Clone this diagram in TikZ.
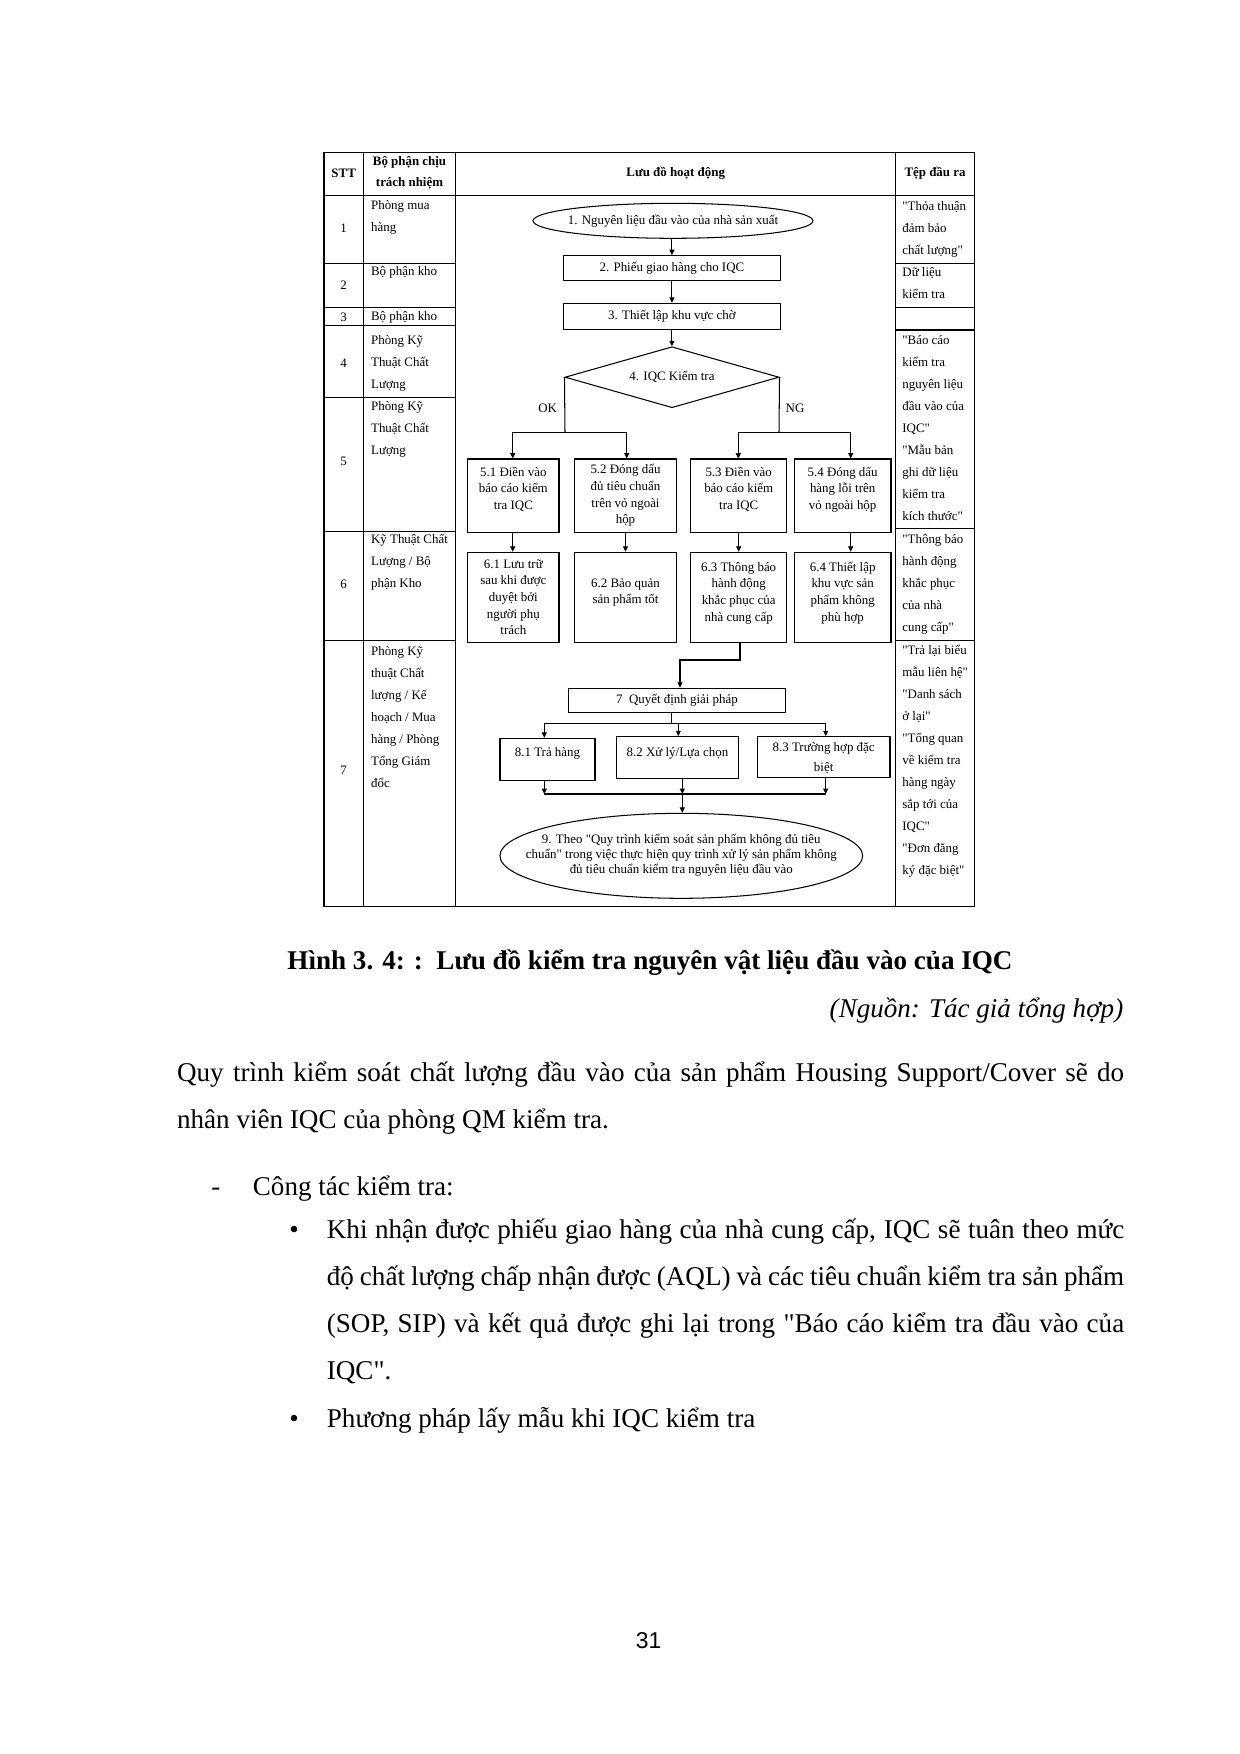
\documentclass[tikz,border=0pt]{standalone}
\usepackage{fontspec}
\setmainfont{Liberation Serif}[Ligatures=TeXOff]
\newfontfamily\pnfont{Liberation Sans}
\usetikzlibrary{shapes.geometric,arrows.meta}
\newdimen\pxu \pxu=0.48pt
\newcommand\celfont{\fontsize{6.2}{10.56}\selectfont}
\newcommand\boxfont{\fontsize{6.2}{8}\selectfont}
\newcommand\ellfont{\fontsize{6.2}{7.2}\selectfont}
\newcommand\fr{\rule{0pt}{7pt}}
\newcommand\tbx[4]{\parbox[c][#2\pxu][t]{#1\pxu}{\centering\rule{0pt}{#3\pxu}#4\par}}
\begin{document}
\begin{tikzpicture}[x=0.48pt,y=-0.48pt,
 tline/.style={line width=0.65pt},
 ln/.style={line width=0.5pt},
 arr/.style={line width=0.5pt,-{Triangle[length=2.6pt,width=2.4pt]}},
 fcbox/.style={draw,line width=0.5pt,inner sep=0pt,font=\boxfont},
 cell/.style={anchor=north west,inner sep=0pt,align=left,font=\celfont},
 num/.style={inner sep=0pt,font=\celfont},
 hdr/.style={inner sep=0pt,align=center,font=\fontsize{6.2}{9.9}\selectfont\bfseries},
 body/.style={anchor=base west,inner sep=0pt,font=\fontsize{13}{22.4}\selectfont},
]
\fill[white] (0,0) rectangle (1240,1754);
\useasboundingbox (0,0) rectangle (1240,1754);

% ---------- table grid ----------
\draw[tline] (324,152.7) rectangle (974.3,906.7);
\foreach \x in {363.3,455.7,895.7} \draw[tline] (\x,152.7) -- (\x,906.7);
\draw[tline] (324,195.7) -- (974.3,195.7);
\foreach \y in {263.7,307.5,325.5,397.3,531.7,640.7} \draw[tline] (324,\y) -- (455.7,\y);
\foreach \y in {263.7,307.5,330,528.3,640.7} \draw[tline] (895.7,\y) -- (974.3,\y);

% ---------- headers ----------
\node[hdr] (hstt) at (343.7,173) {STT};
\node[hdr] (hbp) at (409.5,172.7) {Bộ phận chịu\\trách nhiệm};
\node[hdr] (hld) at (675.7,173) {Lưu đồ hoạt động};
\node[hdr] (htd) at (935,173) {Tệp đầu ra};

% ---------- STT numbers ----------
\node[num] (s1) at (343.7,228) {1};
\node[num] (s2) at (343.7,285) {2};
\node[num] (s3) at (343.7,316.8) {3};
\node[num] (s4) at (343.7,363) {4};
\node[num] (s5) at (343.7,461.7) {5};
\node[num] (s6) at (343.7,584) {6};
\node[num] (s7) at (343.7,770.7) {7};

% ---------- responsible departments ----------
\node[cell] (l1) at (370.7,194.7) {\fr Phòng mua\\hàng};
\node[cell] (l2) at (370.7,260.4) {\fr Bộ phận kho};
\node[cell] (l3) at (370.7,305.6) {\fr Bộ phận kho};
\node[cell] (l4) at (370.7,329.7) {\fr Phòng Kỹ\\Thuật Chất\\Lượng};
\node[cell] (l5) at (370.7,395.1) {\fr Phòng Kỹ\\Thuật Chất\\Lượng};
\node[cell] (l6) at (370.7,528.4) {\fr Kỹ Thuật Chất\\Lượng / Bộ\\phận Kho};
\node[cell] (l7) at (370.7,640.4) {\fr Phòng Kỹ\\thuật Chất\\lượng / Kế\\hoạch / Mua\\hàng / Phòng\\Tổng Giám\\đốc};

% ---------- output files ----------
\node[cell] (r1) at (902,195.7) {\fr "Thỏa thuận\\đảm bảo\\chất lượng"};
\node[cell] (r2) at (902,261.4) {\fr Dữ liệu\\kiểm tra};
\node[cell] (r45) at (902,329.1) {\fr "Báo cáo\\kiểm tra\\nguyên liệu\\đầu vào của\\IQC"\\"Mẫu bản\\ghi dữ liệu\\kiểm tra\\kích thước"};
\node[cell] (r6) at (902,528.4) {\fr "Thông báo\\hành động\\khắc phục\\của nhà\\cung cấp"};
\node[cell] (r7) at (902,639.4) {\fr "Trả lại biểu\\mẫu liên hệ"\\"Danh sách\\ở lại"\\"Tổng quan\\về kiểm tra\\hàng ngày\\sắp tới của\\IQC"\\"Đơn đăng\\ký đặc biệt"};

% ---------- flowchart ----------
\node[fcbox,ellipse,minimum width=280\pxu,minimum height=35\pxu] (n1) at (673,220.8) {\makebox[0pt]{1. Nguyên liệu đầu vào của nhà sản xuất}};
\node[fcbox,minimum width=217.7\pxu,minimum height=25.3\pxu] (n2) at (671.9,268.3) {2. Phiếu giao hàng cho IQC};
\node[fcbox,minimum width=217.7\pxu,minimum height=26\pxu] (n3) at (671.9,316.3) {3. Thiết lập khu vực chờ};
\node[fcbox,diamond,aspect=3.5,minimum width=214\pxu,minimum height=61\pxu] (n4) at (672,377.2) {4. IQC Kiểm tra};
\node[num] (lok) at (547.7,408.3) {OK};
\node[num] (lng) at (795,408.3) {NG};

\node[fcbox] (b51) at (513.35,495.85) {\tbx{91.3}{73.7}{17.3}{5.1 Điền vào\\báo cáo kiểm\\tra IQC}};
\node[fcbox] (b52) at (625.5,495.85) {\tbx{102.4}{73.7}{14.7}{5.2 Đóng dấu\\đủ tiêu chuẩn\\trên vỏ ngoài\\hộp}};
\node[fcbox] (b53) at (738.7,495.85) {\tbx{96}{73.7}{17.3}{5.3 Điền vào\\báo cáo kiểm\\tra IQC}};
\node[fcbox] (b54) at (842.65,495.85) {\tbx{96.7}{73.7}{17.3}{5.4 Đóng dấu\\hàng lỗi trên\\vỏ ngoài hộp}};
\node[fcbox] (b61) at (513.35,597.3) {\tbx{91.3}{90}{15.7}{6.1 Lưu trữ\\sau khi được\\duyệt bởi\\người phụ\\trách}};
\node[fcbox] (b62) at (625.5,597.3) {\tbx{102.4}{90}{35}{6.2 Bảo quản\\sản phẩm tốt}};
\node[fcbox] (b63) at (738.7,597.3) {\tbx{96}{90}{19}{6.3 Thông báo\\hành động\\khắc phục của\\nhà cung cấp}};
\node[fcbox] (b64) at (842.65,597.3) {\tbx{96.7}{90}{19}{6.4 Thiết lập\\khu vực sản\\phẩm không\\phù hợp}};

\node[fcbox,minimum width=217.4\pxu,minimum height=24.4\pxu] (b7) at (677,700.5) {7\ \ Quyết định giải pháp};
\node[fcbox] (b81) at (547.5,759.2) {\tbx{95}{41.7}{18}{8.1 Trả hàng}};
\node[fcbox] (b82) at (677.5,757.5) {\tbx{121.6}{41.6}{19.6}{8.2 Xử lý/Lựa chọn}};
\node[fcbox] (b83) at (823.65,757.2) {\tbx{132.7}{41}{14.6}{8.3 Trường hợp đặc\\[1.5pt]biệt}};
\node[fcbox,ellipse,minimum width=362.7\pxu,minimum height=85\pxu,font=\ellfont] (n9) at (681.3,855.8) {\makebox[0pt]{\begin{tabular}{@{}c@{}}9. Theo "Quy trình kiểm soát sản phẩm không đủ tiêu\\chuẩn" trong việc thực hiện quy trình xử lý sản phẩm không\\đủ tiêu chuẩn kiểm tra nguyên liệu đầu vào\end{tabular}}};

% ---------- connectors ----------
\draw[arr] (n1.south -| n2.north) -- (n2.north);
\draw[arr] (n2.south) -- (n3.north);
\draw[arr] (n3.south) -- (n3.south |- n4.north);

\coordinate (okL) at (512.7,432.3);
\coordinate (okR) at (626.7,432.3);
\coordinate (okT) at (565,432.3);
\coordinate (ngL) at (738.3,432.3);
\coordinate (ngR) at (850.7,432.3);
\coordinate (ngT) at (779,432.3);
\draw[ln] (n4.west) -- (okT);
\draw[ln] (okL) -- (okR);
\draw[arr] (okL) -- (okL |- b51.north);
\draw[arr] (okR) -- (okR |- b52.north);
\draw[ln] (n4.east) -- (ngT);
\draw[ln] (ngL) -- (ngR);
\draw[arr] (ngL) -- (ngL |- b53.north);
\draw[arr] (ngR) -- (ngR |- b54.north);

\draw[arr] (okL |- b51.south) -- (okL |- b61.north);
\draw[arr] (b52.south) -- (b62.north);
\draw[arr] (b53.south) -- (b63.north);
\draw[arr] (ngR |- b54.south) -- (ngR |- b64.north);

\coordinate (c63) at (740,660);
\coordinate (c7) at (680,660);
\draw[arr] (c63 |- b63.south) -- (c63) -- (c7) -- (c7 |- b7.north);

\coordinate (j7) at (671.7,723.3);
\coordinate (jL) at (544.3,723.3);
\coordinate (jM) at (678.3,723.3);
\coordinate (jR) at (825.7,723.3);
\draw[ln] (j7 |- b7.south) -- (j7);
\draw[ln] (jL) -- (jR);
\draw[arr] (jL) -- (jL |- b81.north);
\draw[arr] (jM) -- (jM |- b82.north);
\draw[arr] (jR) -- (jR |- b83.north);

\coordinate (mL) at (544.3,794);
\coordinate (mM) at (682.3,794);
\coordinate (mR) at (825.7,794);
\draw[arr] (mL |- b81.south) -- (mL);
\draw[arr] (mM |- b82.south) -- (mM);
\draw[arr] (mR |- b83.south) -- (mR);
\draw[ln] (mL) -- (mR);
\draw[arr] (mM) -- (mM |- n9.north);

% ---------- caption and body text ----------
\node[anchor=base,inner sep=0pt,font=\fontsize{13}{15}\selectfont\bfseries] (cap) at (650,969) {Hình 3. 4: :\ \ Lưu đồ kiểm tra nguyên vật liệu đầu vào của IQC};
\node[anchor=base east,inner sep=0pt,font=\fontsize{13}{15}\selectfont\itshape] (src) at (1123.7,1017) {(Nguồn: Tác giả tổng hợp)};

\node[body] (t1) at (176.7,1081) {\makebox[454.6pt][s]{Quy trình kiểm soát chất lượng đầu vào của sản phẩm Housing Support/Cover sẽ do}};
\node[body] (t2) at (176.7,1128) {nhân viên IQC của phòng QM kiểm tra.};
\node[body] (d1) at (211,1195) {-};
\node[body] (t3) at (252.5,1195) {Công tác kiểm tra:};
\node[body] (u1) at (289,1238) {•};
\node[body] (t4) at (326.5,1238) {\makebox[382.7pt][s]{Khi nhận được phiếu giao hàng của nhà cung cấp, IQC sẽ tuân theo mức}};
\node[body] (t5) at (326.5,1285) {\makebox[382.7pt][s]{độ chất lượng chấp nhận được (AQL) và các tiêu chuẩn kiểm tra sản phẩm}};
\node[body] (t6) at (326.5,1332) {\makebox[382.7pt][s]{(SOP, SIP) và kết quả được ghi lại trong "Báo cáo kiểm tra đầu vào của}};
\node[body] (t7) at (326.5,1379) {IQC".};
\node[body] (u2) at (289,1427) {•};
\node[body] (t8) at (326.5,1427) {Phương pháp lấy mẫu khi IQC kiểm tra};

\node[anchor=base,inner sep=0pt,font=\pnfont\fontsize{11}{13}\selectfont] (pg) at (648.5,1648) {31};
\end{tikzpicture}
\end{document}
